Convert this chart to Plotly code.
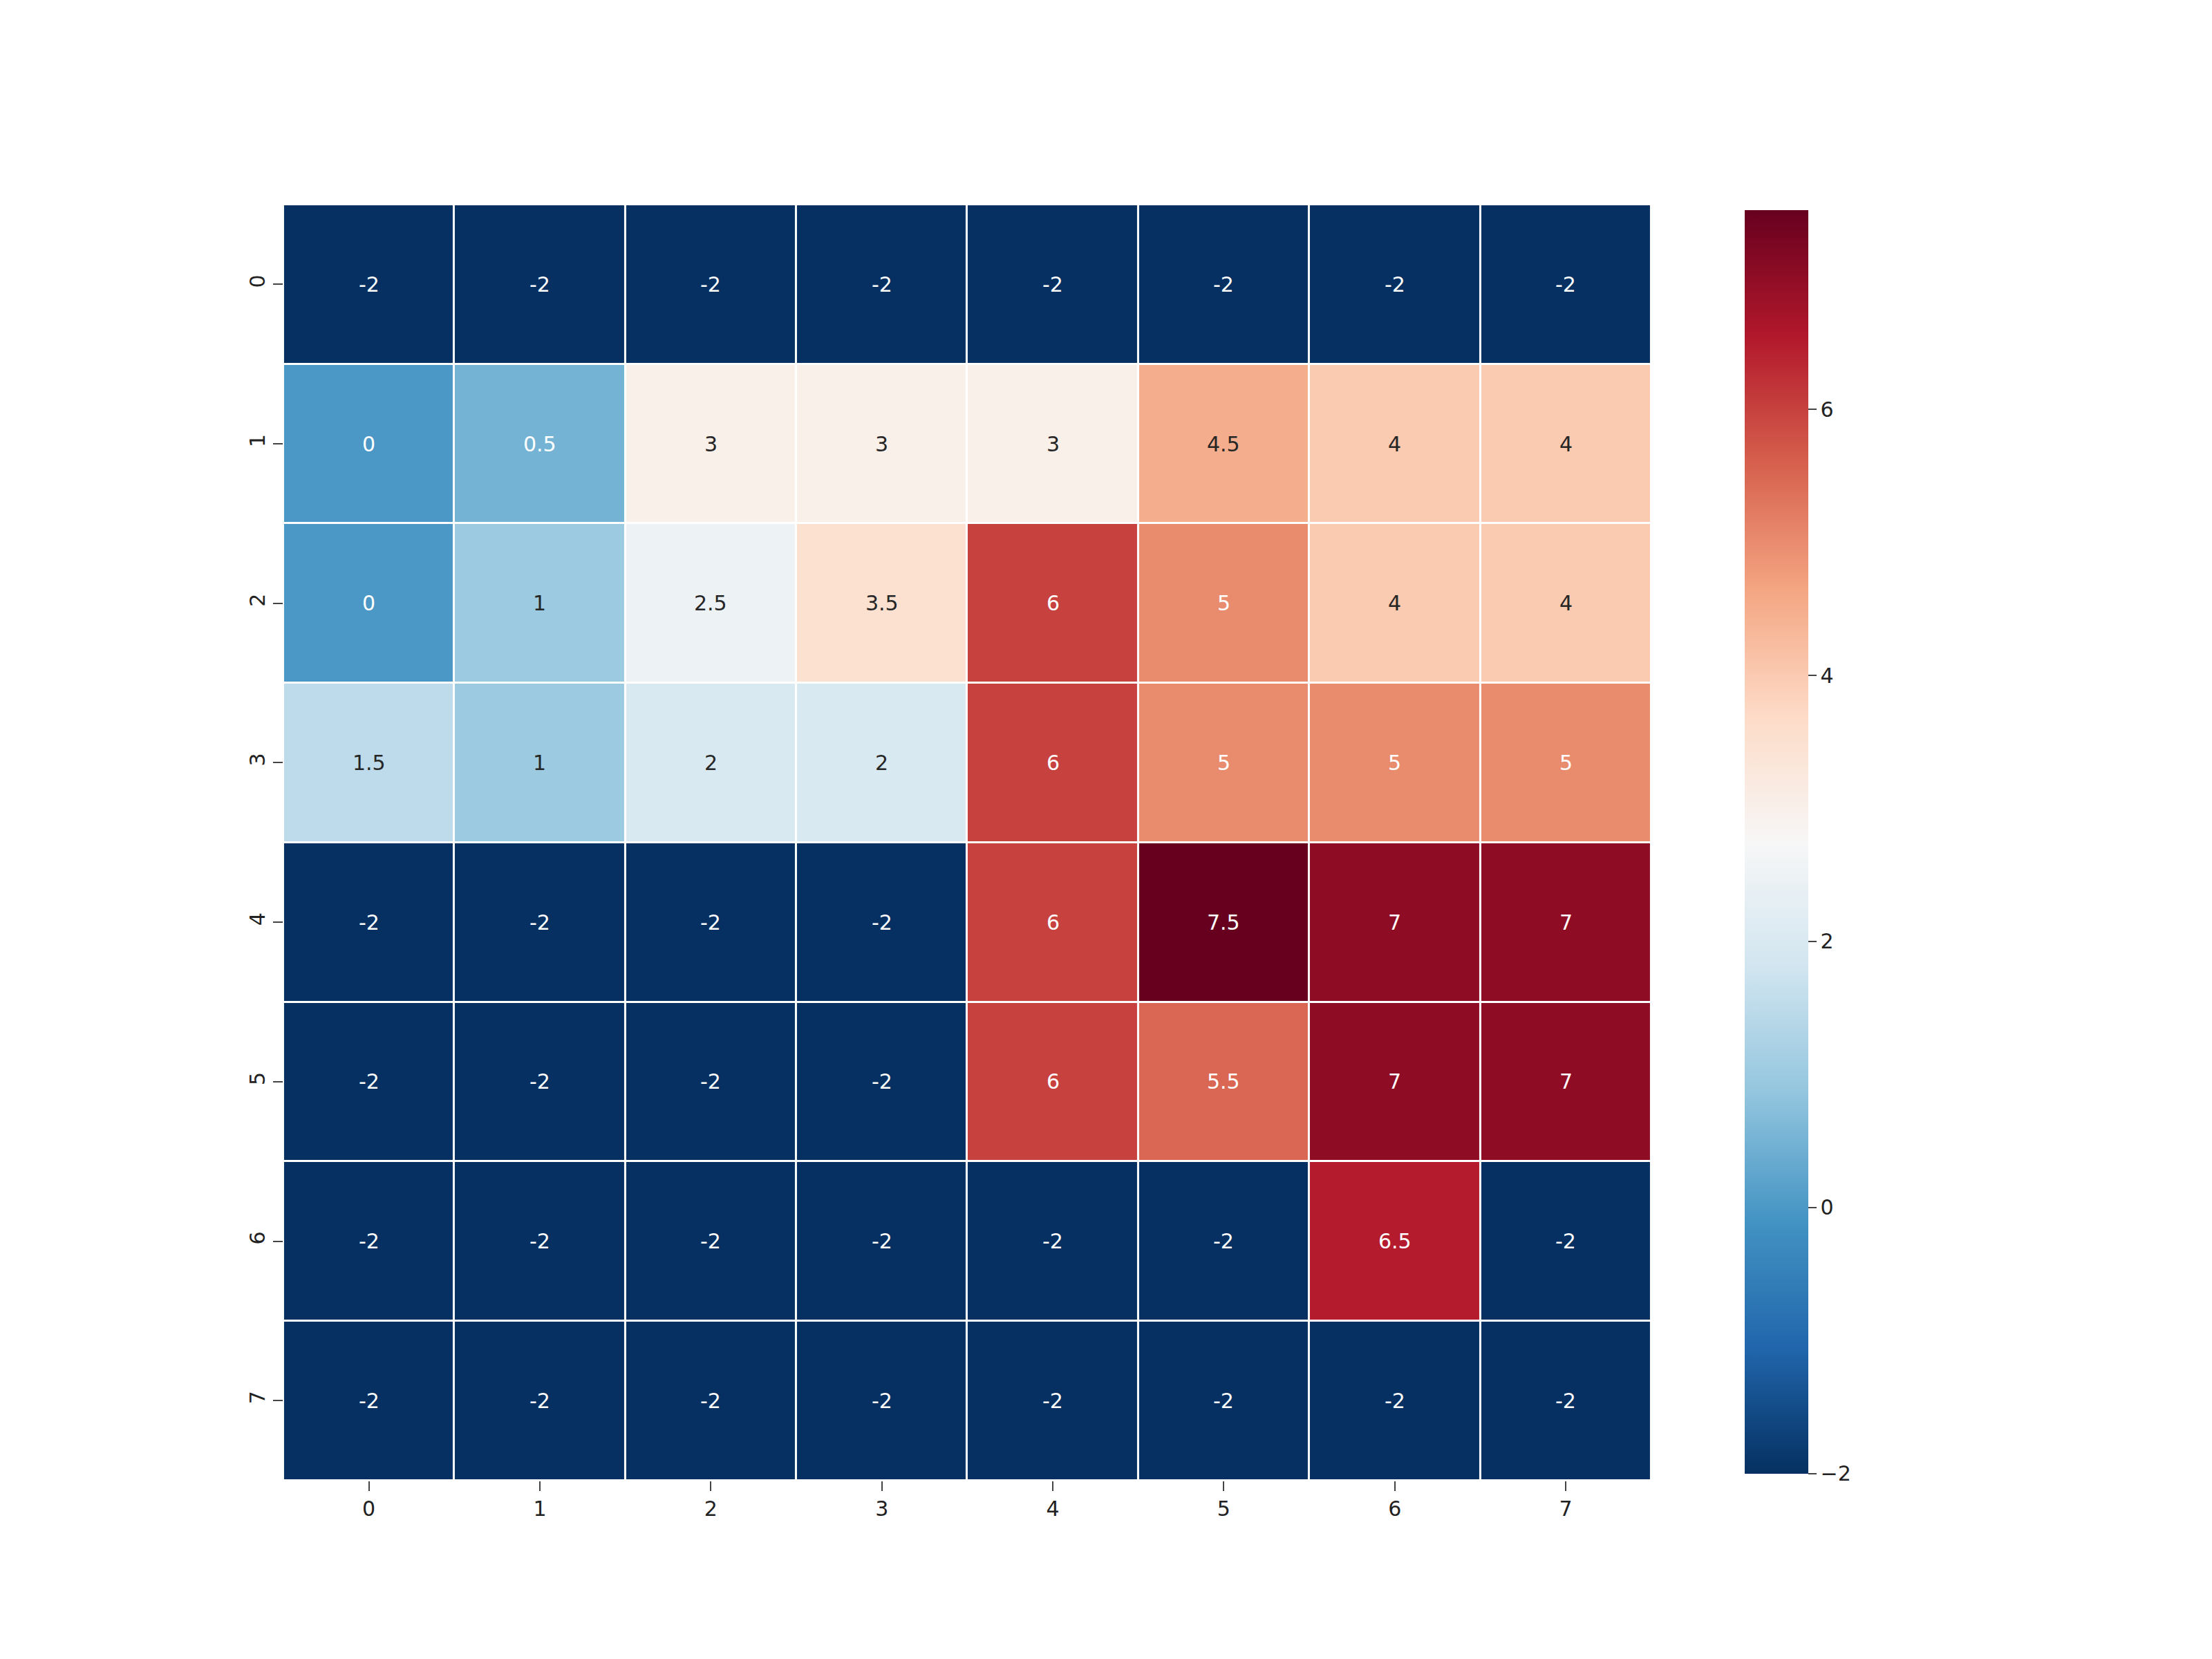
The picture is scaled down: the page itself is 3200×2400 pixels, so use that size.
import plotly.graph_objects as go

rows = [0, 1, 2, 3, 4, 5, 6, 7]
cols = [0, 1, 2, 3, 4, 5, 6, 7]
values = [
    [-2, -2, -2, -2, -2, -2, -2, -2],
    [0, 0.5, 3, 3, 3, 4.5, 4, 4],
    [0, 1, 2.5, 3.5, 6, 5, 4, 4],
    [1.5, 1, 2, 2, 6, 5, 5, 5],
    [-2, -2, -2, -2, 6, 7.5, 7, 7],
    [-2, -2, -2, -2, 6, 5.5, 7, 7],
    [-2, -2, -2, -2, -2, -2, 6.5, -2],
    [-2, -2, -2, -2, -2, -2, -2, -2],
]
cbar_ticks = [-2, 0, 2, 4, 6]

font = "DejaVu Sans"

fig = go.Figure(go.Heatmap(
    z=values, x=cols, y=rows,
    colorscale="RdBu_r", zmin=-2, zmax=7.5,
    xgap=3, ygap=3,
    colorbar=dict(
        x=0.783, xanchor="left", len=0.77, y=0.111, yanchor="bottom",
        thickness=92, outlinewidth=0,
        tickvals=cbar_ticks, ticktext=["\u22122", "0", "2", "4", "6"],
        ticks="outside", ticklen=12, tickwidth=2,
        tickfont=dict(family=font, size=30, color="#222"),
    ),
))

for i, r in enumerate(values):
    for j, v in enumerate(r):
        fig.add_annotation(
            x=cols[j], y=rows[i], text=f"{v:g}", showarrow=False,
            font=dict(family=font, size=30,
                      color="white" if (v <= 0.5 or v >= 5) else "#262626"),
        )

fig.update_layout(
    width=3200, height=2400, plot_bgcolor="white", paper_bgcolor="white",
    margin=dict(l=0, r=0, t=0, b=0),
)
fig.update_xaxes(domain=[0.1256, 0.744], tickvals=cols, ticks="outside",
                 ticklen=14, tickwidth=2, showgrid=False, zeroline=False,
                 tickfont=dict(family=font, size=30, color="#222"))
fig.update_yaxes(domain=[0.111, 0.88], tickvals=rows, autorange="reversed",
                 ticks="outside", ticklen=14, tickwidth=2, tickangle=-90,
                 showgrid=False, zeroline=False,
                 tickfont=dict(family=font, size=30, color="#222"))

fig.write_html("out.html")
